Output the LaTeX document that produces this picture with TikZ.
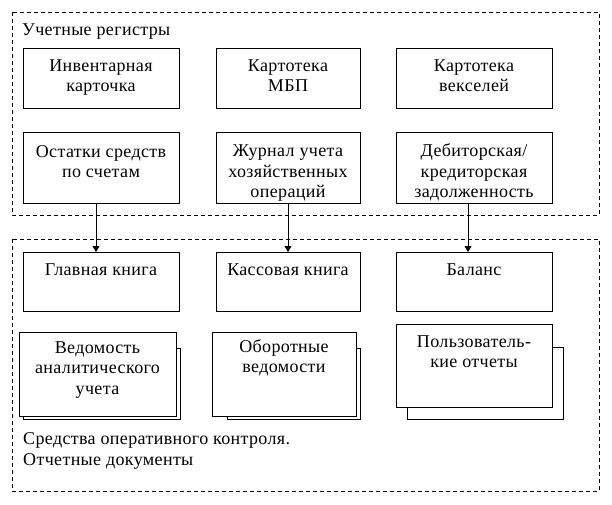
\documentclass[tikz,border=0pt]{standalone}
\usepackage{fontspec}
\setmainfont{Liberation Serif}[LetterSpace=2]
\usetikzlibrary{arrows.meta,calc}

\begin{document}
\begin{tikzpicture}[x=1pt, y=-1pt, >={Triangle[width=7pt,length=6pt]},
  every node/.style={font=\fontsize{18}{20.5}\selectfont},
  frame/.style={draw, dash pattern=on 4pt off 3pt, line width=0.8pt},
  regbox/.style={draw, line width=0.8pt, fill=white, inner sep=0pt, outer sep=0pt, anchor=north west},
  boxtext/.style={align=center, anchor=base, inner sep=0pt}]
  \useasboundingbox (0,0) rectangle (612,504);

  % Outer dashed frames
  \draw[frame] (12,12) rectangle (599,215);
  \draw[frame] (12,239) rectangle (599,491);
  \node[anchor=base west, inner sep=0pt] (regt) at (22,35) {Учетные регистры};

  % Registers, first row (text base = last line)
  \node[regbox, minimum width=156pt, minimum height=60pt] (inv) at (23,48) {};
  \node[regbox, minimum width=144pt, minimum height=60pt] (mbp) at (216,48) {};
  \node[regbox, minimum width=156pt, minimum height=60pt] (veks) at (396,48) {};
  \node[boxtext] (inv-t) at ($(inv.north)+(0,43.5)$) {Инвентарная\\карточка};
  \node[boxtext] (mbp-t) at ($(mbp.north)+(0,43.5)$) {Картотека\\МБП};
  \node[boxtext] (veks-t) at ($(veks.north)+(0,43.5)$) {Картотека\\векселей};

  % Registers, second row
  \node[regbox, minimum width=156pt, minimum height=71pt] (ost) at (23,132) {};
  \node[regbox, minimum width=144pt, minimum height=71pt] (zhur) at (216,132) {};
  \node[regbox, minimum width=156pt, minimum height=71pt] (deb) at (396,132) {};
  \node[boxtext] (ost-t) at ($(ost.north)+(0,45.5)$) {Остатки средств\\по счетам};
  \node[boxtext] (zhur-t) at ($(zhur.north)+(0,65.5)$) {Журнал учета\\хозяйственных\\операций};
  \node[boxtext] (deb-t) at ($(deb.north)+(0,65.5)$) {Дебиторская/\\кредиторская\\задолженность};

  % Reports, first row
  \node[regbox, minimum width=156pt, minimum height=59pt] (glav) at (23,252) {};
  \node[regbox, minimum width=144pt, minimum height=59pt] (kass) at (216,252) {};
  \node[regbox, minimum width=156pt, minimum height=59pt] (bal) at (396,252) {};
  \node[boxtext] (glav-t) at ($(glav.north)+(0,23)$) {Главная книга};
  \node[boxtext] (kass-t) at ($(kass.north)+(0,23)$) {Кассовая книга};
  \node[boxtext] (bal-t) at ($(bal.north)+(0,23)$) {Баланс};

  % Reports, stacked documents
  \node[regbox, minimum width=157pt, minimum height=71pt] (ved-b) at (23,348) {};
  \node[regbox, minimum width=157pt, minimum height=84pt] (ved) at (19,332) {};
  \node[regbox, minimum width=133pt, minimum height=71pt] (obor-b) at (227,348) {};
  \node[regbox, minimum width=144pt, minimum height=84pt] (obor) at (212,332) {};
  \node[regbox, minimum width=156pt, minimum height=72pt] (pol-b) at (407,347) {};
  \node[regbox, minimum width=156pt, minimum height=83pt] (pol) at (396,324) {};
  \node[boxtext] (ved-t) at ($(ved.north)+(0,62)$) {Ведомость\\аналитического\\учета};
  \node[boxtext] (obor-t) at ($(obor.north)+(0,40.5)$) {Оборотные\\ведомости};
  \node[boxtext] (pol-t) at ($(pol.north)+(0,43.5)$) {Пользователь-\\кие отчеты};

  \node[anchor=base west, inner sep=0pt, align=left] (kontr) at (23,465) {Средства оперативного контроля.\\Отчетные документы};

  % Links between the frames
  \foreach \src/\dst/\dx in {ost/glav/-5, zhur/kass/0, deb/bal/-6} {
    \draw[->, line width=0.8pt] ($(\src.south)+(\dx,0)$) -- ($(\dst.north)+(\dx,0)$);
  }
\end{tikzpicture}
\end{document}
